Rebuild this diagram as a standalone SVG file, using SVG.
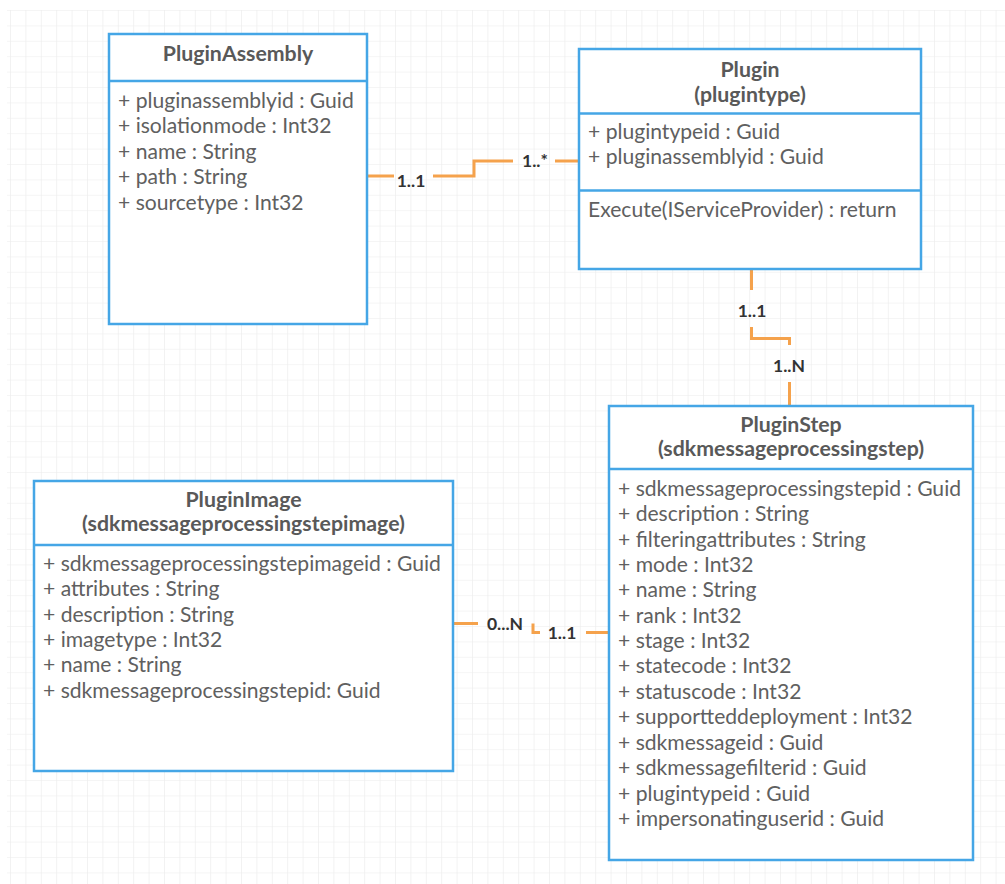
<svg xmlns="http://www.w3.org/2000/svg" width="1005" height="884" viewBox="0 0 1005 884">
<defs>
<pattern id="grid" x="10" y="10" width="15.4" height="15.4" patternUnits="userSpaceOnUse">
<path d="M0 0H15.4M0 0V15.4" fill="none" stroke="#ebebeb" stroke-width="1.2"/>
</pattern>
<style>
.box{fill:#fff;stroke:#45a6e6;stroke-width:2.5}
.div{stroke:#45a6e6;stroke-width:2.5}
.title{font-family:Lato,"Liberation Sans",sans-serif;font-weight:bold;font-size:21.3px;fill:#595959;text-anchor:middle}
.attr{font-family:Lato,"Liberation Sans",sans-serif;font-size:21.1px;fill:#606060}
.conn{fill:none;stroke:#f5a24c;stroke-width:3}
.lbl{font-family:Lato,"Liberation Sans",sans-serif;font-weight:bold;font-size:17.5px;fill:#333;text-anchor:middle}
</style>
</defs>
<rect width="1005" height="884" fill="#fff"/>
<rect x="7" y="10" width="998" height="874" fill="url(#grid)"/>

<g id="connectors">
<path class="conn" d="M367 176H394M433 176H474V161H513M555 161H579"/>
<path class="conn" d="M751.5 269V290M751.5 327V338.5H789.5V345M789.5 382V405"/>
<path class="conn" d="M453 623.5H478M533 623.5V632.5H540M586 632.5H609"/>
<text class="lbl" x="411" y="187">1..1</text>
<text class="lbl" x="535" y="167">1..*</text>
<text class="lbl" x="752" y="317">1..1</text>
<text class="lbl" x="789" y="372">1..N</text>
<text class="lbl" x="505" y="630">0...N</text>
<text class="lbl" x="562" y="639">1..1</text>
</g>

<g id="PluginAssembly">
<rect class="box" x="109" y="34" width="258" height="290"/>
<line class="div" x1="109" y1="81" x2="367" y2="81"/>
<text class="title" x="238" y="61">PluginAssembly</text>
<text class="attr" x="118" y="107.5">+ pluginassemblyid : Guid</text>
<text class="attr" x="118" y="133">+ isolationmode : Int32</text>
<text class="attr" x="118" y="158.5">+ name : String</text>
<text class="attr" x="118" y="184">+ path : String</text>
<text class="attr" x="118" y="209.5">+ sourcetype : Int32</text>
</g>

<g id="Plugin">
<rect class="box" x="579" y="49" width="342" height="220"/>
<line class="div" x1="579" y1="113.5" x2="921" y2="113.5"/>
<line class="div" x1="579" y1="190.5" x2="921" y2="190.5"/>
<text class="title" x="750" y="77">Plugin</text>
<text class="title" x="750" y="102">(plugintype)</text>
<text class="attr" x="588" y="138.5">+ plugintypeid : Guid</text>
<text class="attr" x="588" y="163.5">+ pluginassemblyid : Guid</text>
<text class="attr" x="588" y="216.5">Execute(IServiceProvider) : return</text>
</g>

<g id="PluginStep">
<rect class="box" x="609" y="406" width="364" height="454"/>
<line class="div" x1="609" y1="469" x2="973" y2="469"/>
<text class="title" x="791" y="432">PluginStep</text>
<text class="title" x="791" y="456">(sdkmessageprocessingstep)</text>
<text class="attr" x="618" y="495.5">+ sdkmessageprocessingstepid : Guid</text>
<text class="attr" x="618" y="520.5">+ description : String</text>
<text class="attr" x="618" y="546.5">+ filteringattributes : String</text>
<text class="attr" x="618" y="571.5">+ mode : Int32</text>
<text class="attr" x="618" y="596.5">+ name : String</text>
<text class="attr" x="618" y="622.5">+ rank : Int32</text>
<text class="attr" x="618" y="647.5">+ stage : Int32</text>
<text class="attr" x="618" y="672.5">+ statecode : Int32</text>
<text class="attr" x="618" y="698.5">+ statuscode : Int32</text>
<text class="attr" x="618" y="723.5">+ supportteddeployment : Int32</text>
<text class="attr" x="618" y="749.5">+ sdkmessageid : Guid</text>
<text class="attr" x="618" y="774.5">+ sdkmessagefilterid : Guid</text>
<text class="attr" x="618" y="800.5">+ plugintypeid : Guid</text>
<text class="attr" x="618" y="825.5">+ impersonatinguserid : Guid</text>
</g>

<g id="PluginImage">
<rect class="box" x="34" y="481" width="419" height="290"/>
<line class="div" x1="34" y1="545" x2="453" y2="545"/>
<text class="title" x="243.5" y="507">PluginImage</text>
<text class="title" x="243.5" y="531">(sdkmessageprocessingstepimage)</text>
<text class="attr" x="43" y="570.5">+ sdkmessageprocessingstepimageid : Guid</text>
<text class="attr" x="43" y="595.5">+ attributes : String</text>
<text class="attr" x="43" y="621.5">+ description : String</text>
<text class="attr" x="43" y="646.5">+ imagetype : Int32</text>
<text class="attr" x="43" y="671.5">+ name : String</text>
<text class="attr" x="43" y="697.5">+ sdkmessageprocessingstepid: Guid</text>
</g>
</svg>
